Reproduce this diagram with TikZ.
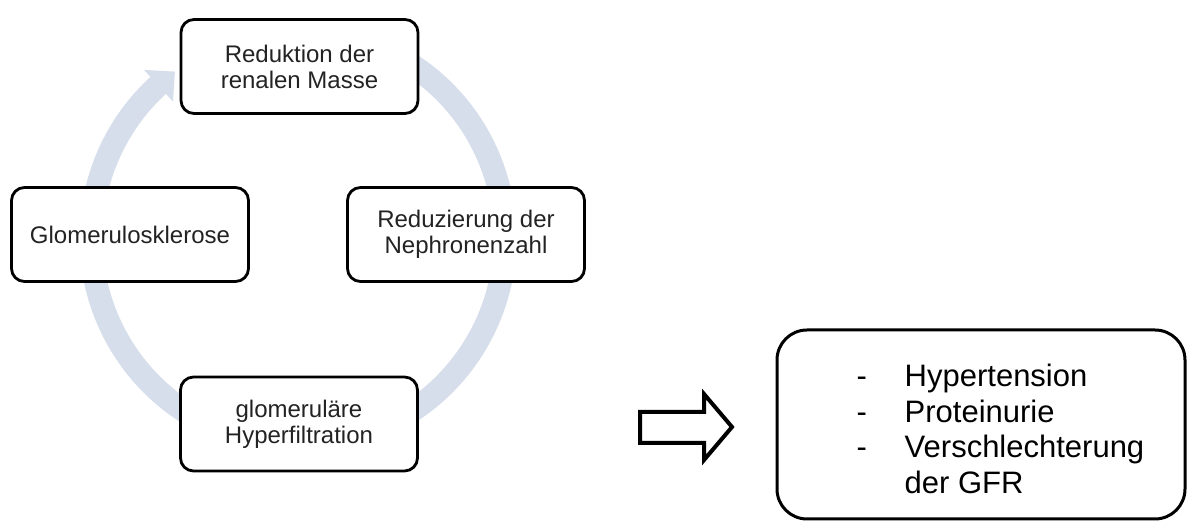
\documentclass[tikz,border=0pt]{standalone}
\usepackage{fontspec}
\setmainfont{Liberation Sans}
\usetikzlibrary{calc}
\definecolor{bandcol}{RGB}{214,222,236}
\definecolor{txtcol}{RGB}{35,35,35}
\begin{document}
\begin{tikzpicture}[x=1pt,y=1pt,
  cyclebox/.style={draw=black, line width=2.8pt, rounded corners=13pt, fill=white,
    minimum width=237pt, minimum height=94pt, inner sep=0pt, align=center,
    text=txtcol, font=\fontsize{24}{26}\selectfont},
  resultbox/.style={draw=black, line width=3pt, rounded corners=30pt, fill=white,
    minimum width=408pt, minimum height=189pt, inner sep=0pt},
  resulttext/.style={anchor=base west, inner sep=0pt, text=black,
    font=\fontsize{31}{35.5}\selectfont},
  band/.style={draw=bandcol, line width=23pt, line cap=butt},
  blockarrow/.style={draw=black, line width=4pt, fill=white, line join=miter}]
\fill[white] (0,0) rectangle (1187,521);
\useasboundingbox (0,0) rectangle (1187,521);
% cycle band
\coordinate (c) at (298,283);
\draw[band] ($(c)+(60:207)$) arc[start angle=60, end angle=-228, radius=207];
\fill[bandcol] ($(c)+(132.5:228)$) -- ($(c)+(126.5:207)$) -- ($(c)+(132.5:185)$) -- cycle;
% boxes
\node[cyclebox] (top) at (299.5,454.5) {Reduktion der\\renalen Masse};
\node[cyclebox] (right) at (466,286.5) {Reduzierung der\\Nephronenzahl};
\node[cyclebox] (bottom) at (299,97) {glomeruläre\\Hyperfiltration};
\node[cyclebox] (left) at (130,286.5) {Glomerulosklerose};
% block arrow
\draw[blockarrow] (640,109) -- (704,109) -- (704,127) -- (732,94) -- (704,61) -- (704,78) -- (640,78) -- cycle;
% result box
\node[resultbox] (res) at (981,96.5) {};
\node[resulttext] (restext) at (856.5,134) {%
  \begin{tabular}[t]{@{}l@{\hspace{37.7pt}}l@{}}
  - & Hypertension\\
  - & Proteinurie\\
  - & Verschlechterung\\
    & der GFR
  \end{tabular}};
\end{tikzpicture}
\end{document}
